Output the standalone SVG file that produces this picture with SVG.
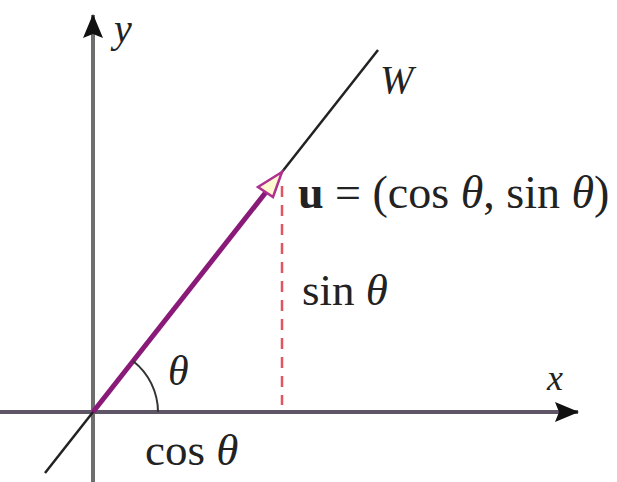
<svg xmlns="http://www.w3.org/2000/svg" width="617" height="482" viewBox="0 0 617 482">
<style>
.t{font-family:"Liberation Serif","Times New Roman",serif;fill:#222}
.i{font-style:italic}
</style>
<defs>
<marker id="ah" markerWidth="24" markerHeight="20" refX="23" refY="10" orient="auto" markerUnits="userSpaceOnUse" viewBox="0 0 24 20">
<path d="M0,0 L24,10 L0,20 L4,10 z" fill="#111"/>
</marker>
</defs>
<rect width="617" height="482" fill="#fff"/>
<g id="connectors">
<line id="x-axis" x1="0" y1="412" x2="578" y2="412" stroke="#5e5666" stroke-width="4" marker-end="url(#ah)"/>
<line id="y-axis" x1="93" y1="482" x2="93" y2="15" stroke="#6e6e6e" stroke-width="4" marker-end="url(#ah)"/>
<line id="W-line" x1="45" y1="473" x2="378" y2="50" stroke="#222" stroke-width="2.5"/>
<line id="sin-dash" x1="282" y1="186" x2="282" y2="405" stroke="#e05560" stroke-width="2.5" stroke-dasharray="11,8"/>
<line id="u-vector" x1="93" y1="412" x2="270" y2="187" stroke="#8a1a78" stroke-width="5"/>
<polygon points="282,172 258,187 273,197" fill="#fff8d0" stroke="#b03090" stroke-width="2.5"/>
<path id="arc" d="M158,412 A65,65 0 0 0 133,361" fill="none" stroke="#333" stroke-width="2"/>
</g>
<g id="labels">
<text class="t i" x="114" y="42" font-size="40">y</text>
<text class="t i" x="380" y="93" font-size="40">W</text>
<text class="t" x="298" y="208" font-size="46"><tspan font-weight="bold">u</tspan> = (cos <tspan class="i">θ</tspan>, sin <tspan class="i">θ</tspan>)</text>
<text class="t" x="302" y="305" font-size="45">sin <tspan class="i">θ</tspan></text>
<text class="t i" x="168" y="385" font-size="42">θ</text>
<text class="t i" x="547" y="390" font-size="36">x</text>
<text class="t" x="145" y="465" font-size="45">cos <tspan class="i">θ</tspan></text>
</g>
</svg>
